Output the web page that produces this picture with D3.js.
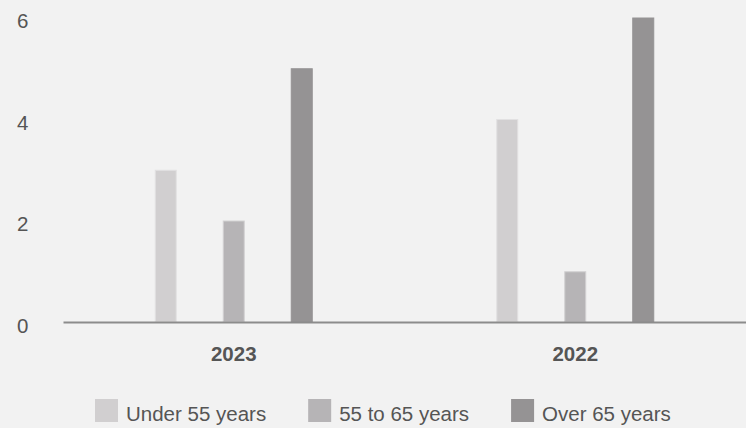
<!DOCTYPE html>
<html>
<head>
<meta charset="utf-8">
<script src="https://cdn.jsdelivr.net/npm/d3@7"></script>
<style>
  html, body { margin: 0; padding: 0; background: #f2f2f2; }
  svg { display: block; font-family: "Liberation Sans", Arial, sans-serif; }
</style>
</head>
<body>
<svg id="chart"></svg>
<script>
var years = ["2023", "2022"];
var groups = ["Under 55 years", "55 to 65 years", "Over 65 years"];
var under55 = [3, 4];
var from55to65 = [2, 1];
var over65 = [5, 6];
var yTicks = [0, 2, 4, 6];

var colors = ["#d1cfd0", "#b6b4b6", "#959394"];
var strokes = ["#e2e1e2", "#d2d1d2", "#959394"];

var svgWidth = 746, svgHeight = 428;
var svg = d3.select("#chart")
  .attr("width", svgWidth)
  .attr("height", svgHeight);

var data = [];
years.forEach(function(yr, i) {
  [under55, from55to65, over65].forEach(function(s, j) {
    data.push({ year: yr, group: groups[j], value: s[i], idx: j });
  });
});

var x = d3.scaleBand().domain(years).range([63, 746]);
var xs = d3.scalePoint().domain(groups).range([-68, 68]);
var y = d3.scaleLinear().domain([0, 6]).range([322, 17.5]);
var barW = 22;

// y labels
var yAxis = svg.append("g")
  .attr("transform", "translate(0,0)")
  .call(d3.axisLeft(y).tickValues(yTicks).tickSize(0).tickFormat(d3.format("d")));
yAxis.select(".domain").remove();
yAxis.selectAll("text")
  .attr("x", 17)
  .attr("dy", "0.5em")
  .attr("text-anchor", "start")
  .attr("fill", "#555")
  .style("font-size", "20.5px")
  .style("font-family", "'Liberation Sans', Arial, sans-serif");

// bars
svg.append("g").selectAll("rect")
  .data(data)
  .enter().append("rect")
  .attr("x", function(d) { return x(d.year) + x.bandwidth() / 2 + xs(d.group) - barW / 2 + 0.5; })
  .attr("y", function(d) { return y(d.value) + 0.5; })
  .attr("width", barW - 1)
  .attr("height", function(d) { return y(0) - y(d.value) - 0.5; })
  .attr("fill", function(d) { return colors[d.idx]; })
  .attr("stroke", function(d) { return strokes[d.idx]; })
  .attr("stroke-width", 1);

// x axis
var xAxis = svg.append("g")
  .attr("transform", "translate(0," + y(0) + ")")
  .call(d3.axisBottom(x).tickSize(0).tickSizeOuter(0));
xAxis.select(".domain")
  .attr("stroke", "#8c8c8c")
  .attr("stroke-width", 2);
xAxis.selectAll("text")
  .attr("y", 39)
  .attr("dy", 0)
  .attr("fill", "#555")
  .style("font-size", "20.5px")
  .style("font-weight", "bold")
  .style("font-family", "'Liberation Sans', Arial, sans-serif");

// legend
var legend = svg.append("g").attr("class", "legend");
var lx = 95;
groups.forEach(function(g, i) {
  var item = legend.append("g").attr("transform", "translate(" + lx + ",399)");
  item.append("rect")
    .attr("width", 23)
    .attr("height", 23)
    .attr("fill", colors[i]);
  var t = item.append("text")
    .attr("x", 31)
    .attr("y", 22)
    .attr("fill", "#555")
    .style("font-size", "20.5px")
    .text(g);
  lx += 31 + t.node().getComputedTextLength() + 42;
});
</script>
</body>
</html>
